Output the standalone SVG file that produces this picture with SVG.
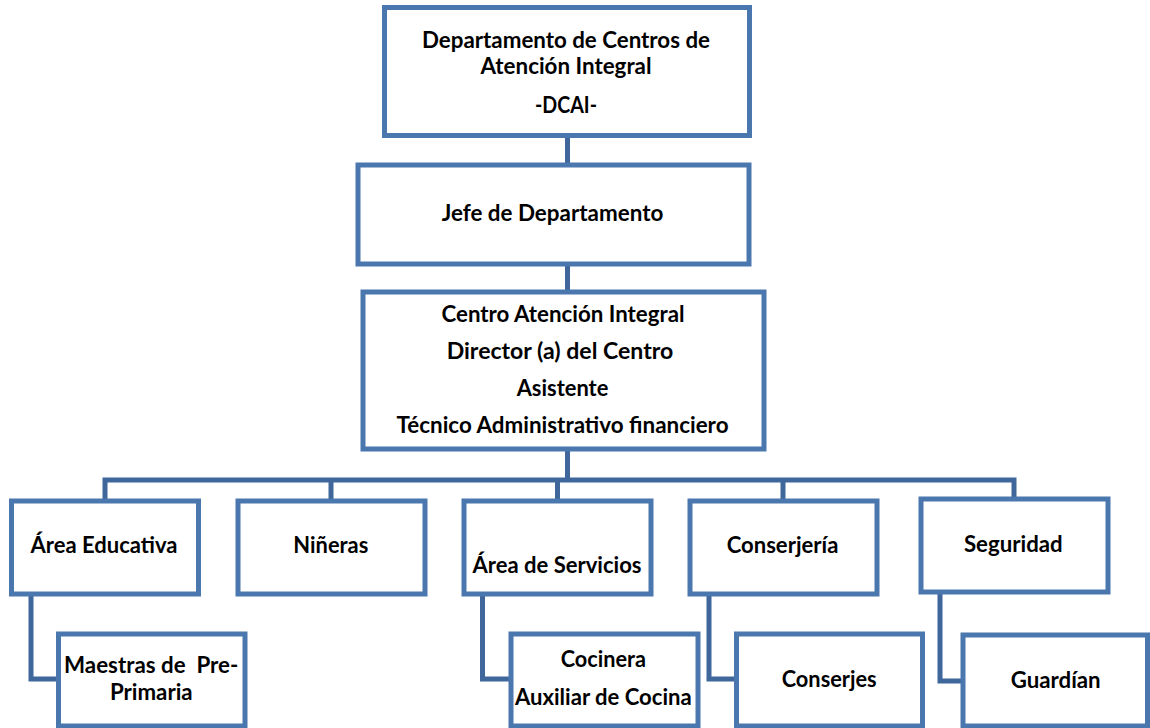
<svg xmlns="http://www.w3.org/2000/svg" width="1150" height="728" viewBox="0 0 1150 728">
<style>
.box{fill:#ffffff;stroke:#4a77ae;stroke-width:5}
.con{fill:none;stroke:#40679b;stroke-width:5;stroke-linejoin:miter}
.t{font-family:Lato,"Open Sans",sans-serif;font-weight:bold;font-size:22.5px;fill:#000000;text-anchor:middle}
</style>
<rect width="1150" height="728" fill="#ffffff"/>
<g id="connectors">
<path class="con" d="M567.5 135 V165"/>
<path class="con" d="M567.5 264 V292"/>
<path class="con" d="M567.5 449 V480"/>
<path class="con" d="M105 501 V480 H1014 V499"/>
<path class="con" d="M331 480 V501"/>
<path class="con" d="M557.5 480 V501"/>
<path class="con" d="M783 480 V501"/>
<path class="con" d="M31 594 V679 H58"/>
<path class="con" d="M482.5 594 V679 H511"/>
<path class="con" d="M709 594 V679 H736"/>
<path class="con" d="M940 592 V681 H963"/>
</g>
<g id="dcai">
<rect class="box" x="384.5" y="7.5" width="365" height="128"/>
<text class="t" x="566" y="48" textLength="288" lengthAdjust="spacingAndGlyphs">Departamento de Centros de</text>
<text class="t" x="566" y="74" textLength="171" lengthAdjust="spacingAndGlyphs">Atención Integral</text>
<text class="t" x="566" y="112.5" textLength="62" lengthAdjust="spacingAndGlyphs">-DCAI-</text>
</g>
<g id="jefe">
<rect class="box" x="358" y="165" width="391" height="99"/>
<text class="t" x="552.5" y="220.5" textLength="221.6" lengthAdjust="spacingAndGlyphs">Jefe de Departamento</text>
</g>
<g id="centro">
<rect class="box" x="363" y="292" width="401" height="157"/>
<text class="t" x="563" y="321.5" textLength="243" lengthAdjust="spacingAndGlyphs">Centro Atención Integral</text>
<text class="t" x="560" y="359" textLength="226.7" lengthAdjust="spacingAndGlyphs">Director (a) del Centro</text>
<text class="t" x="562.5" y="396" textLength="91.7" lengthAdjust="spacingAndGlyphs">Asistente</text>
<text class="t" x="562.5" y="433" textLength="332" lengthAdjust="spacingAndGlyphs">Técnico Administrativo financiero</text>
</g>
<g id="area-educativa">
<rect class="box" x="11.5" y="501" width="187" height="93"/>
<text class="t" x="104" y="553.3" textLength="147" lengthAdjust="spacingAndGlyphs">Área Educativa</text>
</g>
<g id="nineras">
<rect class="box" x="238" y="501" width="187" height="93"/>
<text class="t" x="330.8" y="553.3" textLength="75" lengthAdjust="spacingAndGlyphs">Niñeras</text>
</g>
<g id="area-servicios">
<rect class="box" x="464" y="501" width="187" height="93"/>
<text class="t" x="557" y="572.7" textLength="169" lengthAdjust="spacingAndGlyphs">Área de Servicios</text>
</g>
<g id="conserjeria">
<rect class="box" x="690" y="501" width="187" height="93"/>
<text class="t" x="782.5" y="553.3" textLength="111.7" lengthAdjust="spacingAndGlyphs">Conserjería</text>
</g>
<g id="seguridad">
<rect class="box" x="921" y="499" width="187" height="93"/>
<text class="t" x="1013.3" y="551.7" textLength="98.7" lengthAdjust="spacingAndGlyphs">Seguridad</text>
</g>
<g id="maestras">
<rect class="box" x="58.5" y="634" width="186.5" height="92"/>
<text class="t" x="151.2" y="673.3" textLength="174.3" lengthAdjust="spacingAndGlyphs" xml:space="preserve">Maestras de  Pre-</text>
<text class="t" x="151.3" y="700" textLength="82.7" lengthAdjust="spacingAndGlyphs">Primaria</text>
</g>
<g id="cocinera">
<rect class="box" x="511" y="634" width="187" height="92"/>
<text class="t" x="603.3" y="667.3" textLength="85.3" lengthAdjust="spacingAndGlyphs">Cocinera</text>
<text class="t" x="603.3" y="705" textLength="176.7" lengthAdjust="spacingAndGlyphs">Auxiliar de Cocina</text>
</g>
<g id="conserjes">
<rect class="box" x="736.5" y="634" width="186" height="92"/>
<text class="t" x="829.2" y="686.7" textLength="95" lengthAdjust="spacingAndGlyphs">Conserjes</text>
</g>
<g id="guardian">
<rect class="box" x="963" y="635" width="184.5" height="91"/>
<text class="t" x="1055.7" y="688.3" textLength="90" lengthAdjust="spacingAndGlyphs">Guardían</text>
</g>
</svg>
